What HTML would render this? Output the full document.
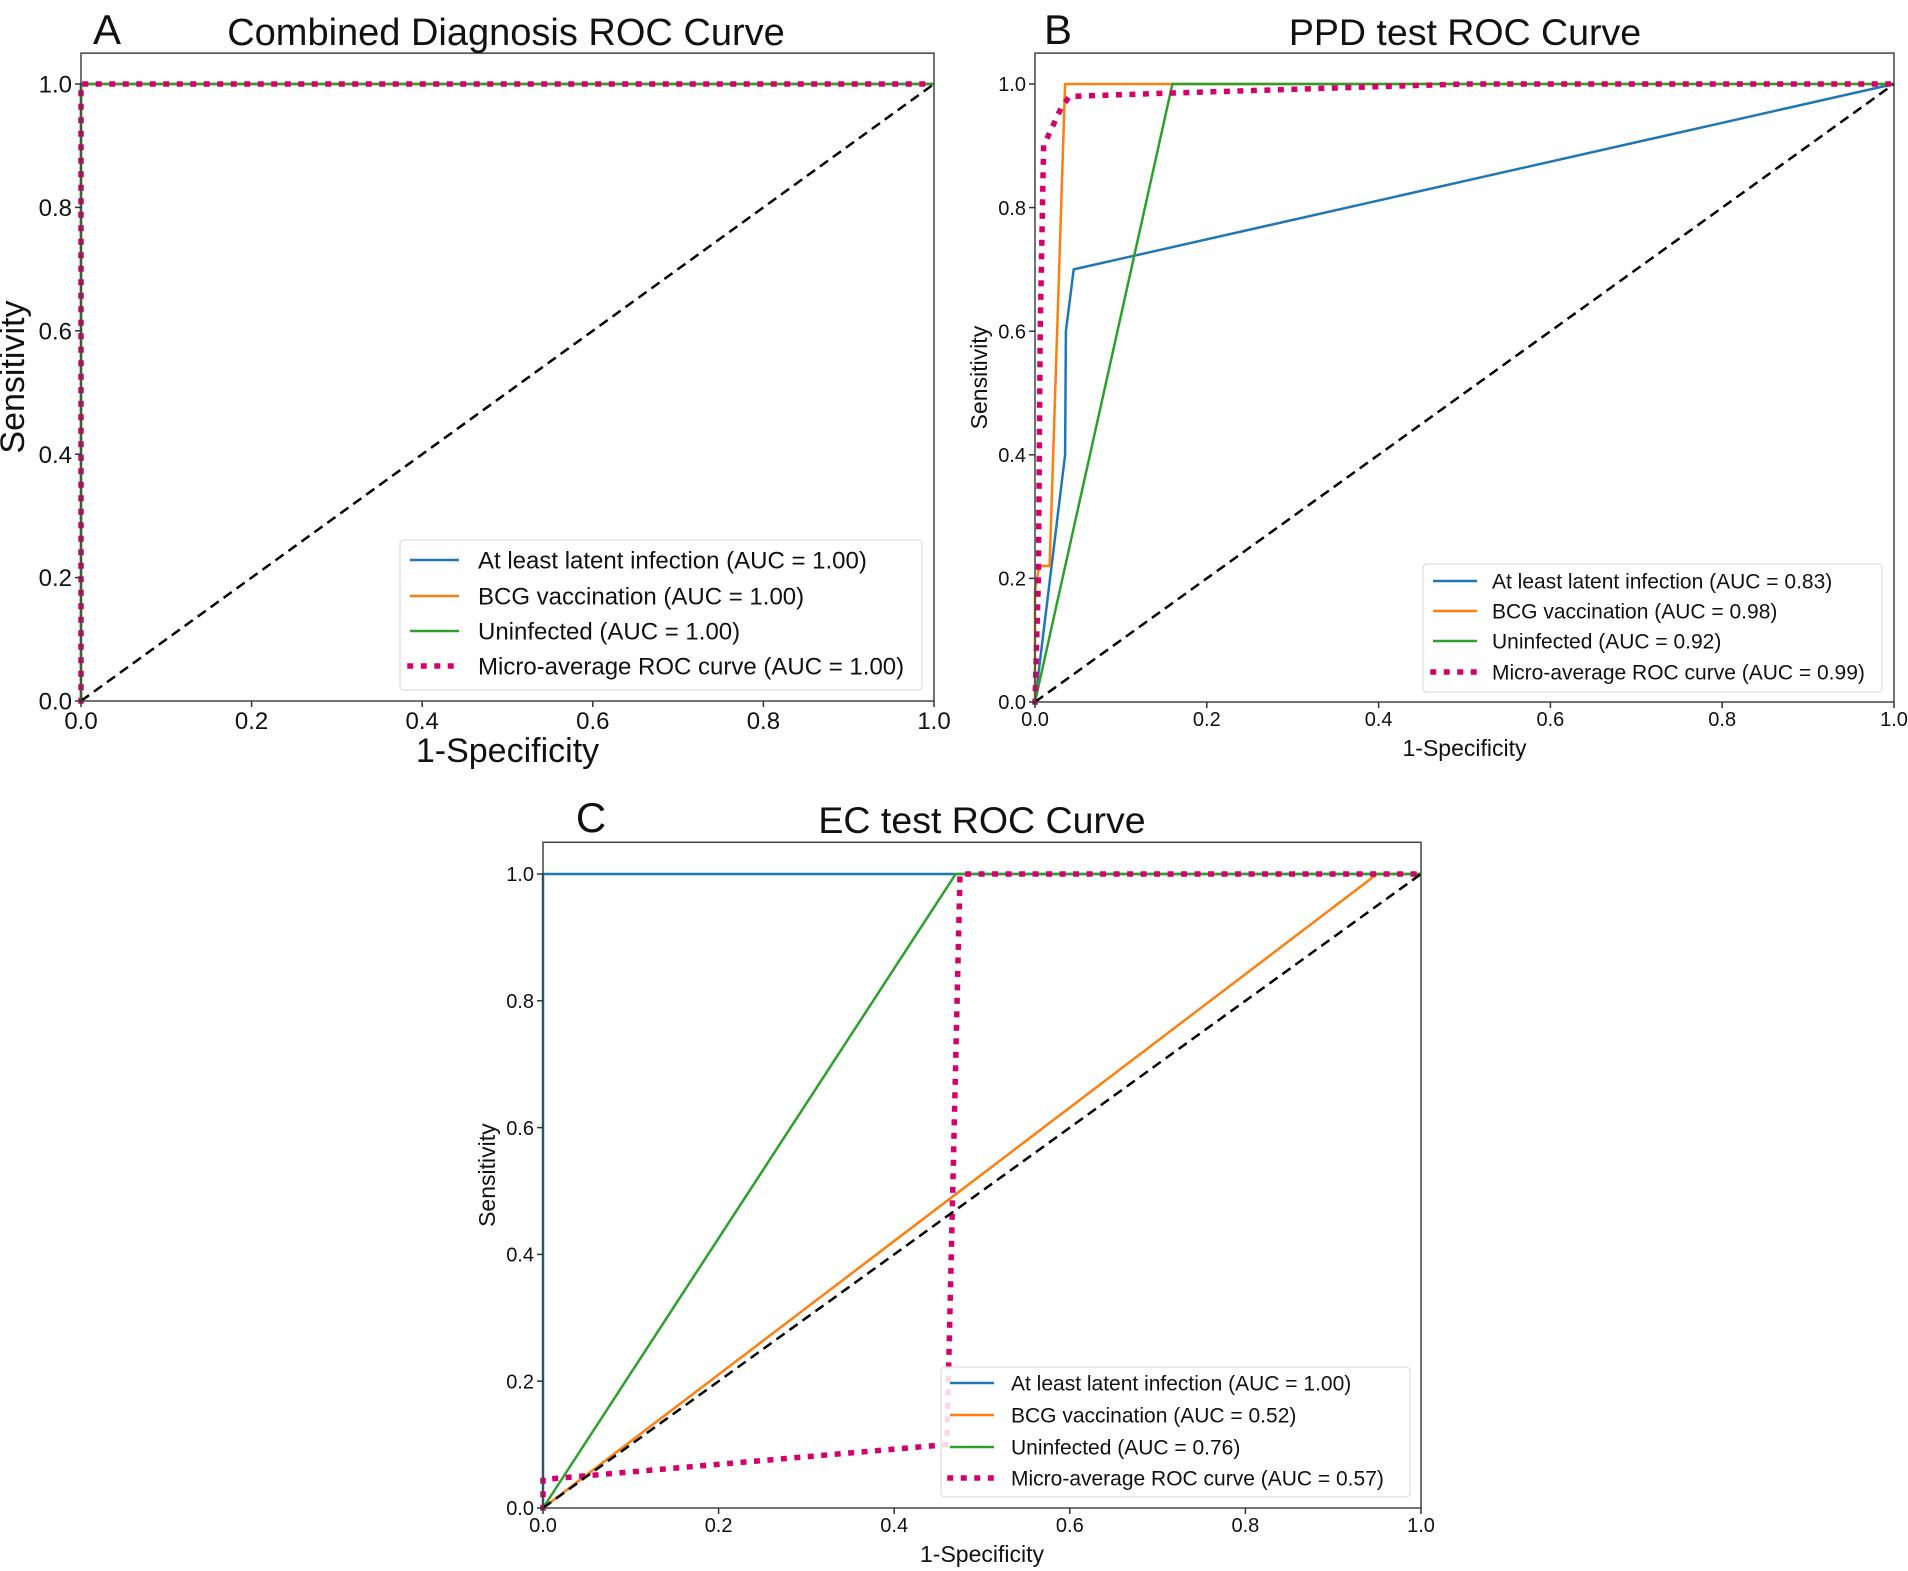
<!DOCTYPE html>
<html><head><meta charset="utf-8"><style>
html,body{margin:0;padding:0;background:#fff;}
svg{display:block;font-family:"Liberation Sans",Arial,sans-serif;}
</style></head><body>
<svg id="fig" width="1908" height="1571" viewBox="0 0 1908 1571" xmlns="http://www.w3.org/2000/svg"></svg>
<script>
// ---- data ----
const seriesNames = ["At least latent infection","BCG vaccination","Uninfected","Micro-average ROC curve"];
const seriesColors = ["#1f77b4","#ff7f0e","#2ca02c","#d6006b"];
const ticks = [0,0.2,0.4,0.6,0.8,1.0];
const tickLabels = ["0.0","0.2","0.4","0.6","0.8","1.0"];

const aucA = ["1.00","1.00","1.00","1.00"];
const aLatentX=[0,0,1], aLatentY=[0,1,1];
const aBcgX=[0,0,1], aBcgY=[0,1,1];
const aUninfX=[0,0,1], aUninfY=[0,1,1];
const aMicroX=[0,0,1], aMicroY=[0,1,1];

const aucB = ["0.83","0.98","0.92","0.99"];
const bLatentX=[0,0.035,0.036,0.045,1], bLatentY=[0,0.4,0.6,0.7,1];
const bBcgX=[0,0,0.005,0.017,0.035,1], bBcgY=[0,0.18,0.22,0.22,1,1];
const bUninfX=[0,0.16,1], bUninfY=[0,1,1];
const bMicroX=[0,0.004,0.006,0.01,0.02,0.03,0.04,0.15,0.5,1], bMicroY=[0,0.2,0.6,0.9,0.93,0.96,0.98,0.985,1,1];

const aucC = ["1.00","0.52","0.76","0.57"];
const cLatentX=[0,0,1], cLatentY=[0,1,1];
const cBcgX=[0,0.95,1], cBcgY=[0,1,1];
const cUninfX=[0,0.47,1], cUninfY=[0,1,1];
const cMicroX=[0,0,0.46,0.475,1], cMicroY=[0,0.045,0.1,1,1];

const panels=[
 {id:"a",letter:"A",title:"Combined Diagnosis ROC Curve",L:81,R:934,y0:701,y1:84,tick:24,lab:34,titleSize:38,letterX:107,titleX:506,titleY:45,
  auc:aucA,xs:[aLatentX,aBcgX,aUninfX,aMicroX],ys:[aLatentY,aBcgY,aUninfY,aMicroY],
  leg:{x:400,y:540,w:522,h:150,rows:[560,596,631,666],lx0:408,lx1:459,tx:478,fs:24},xlY:762},
 {id:"b",letter:"B",title:"PPD test ROC Curve",L:1035,R:1894,y0:702,y1:84,tick:20,lab:23,titleSize:37.5,letterX:1058,titleX:1465,titleY:45,
  auc:aucB,xs:[bLatentX,bBcgX,bUninfX,bMicroX],ys:[bLatentY,bBcgY,bUninfY,bMicroY],
  leg:{x:1423,y:564,w:459,h:128,rows:[581,611,641,672],lx0:1431,lx1:1477,tx:1492,fs:21},xlY:756},
 {id:"c",letter:"C",title:"EC test ROC Curve",L:543,R:1421,y0:1508,y1:874,tick:20,lab:23,titleSize:37.5,letterX:591,titleX:982,titleY:833,
  auc:aucC,xs:[cLatentX,cBcgX,cUninfX,cMicroX],ys:[cLatentY,cBcgY,cUninfY,cMicroY],
  leg:{x:941,y:1367,w:469,h:130,rows:[1383,1415,1447,1478],lx0:948,lx1:994,tx:1011,fs:21},xlY:1562}
];
const NS="http://www.w3.org/2000/svg";
const svg=document.getElementById('fig');
function mk(tag,attrs,parent,text){const e=document.createElementNS(NS,tag);for(const k in attrs)e.setAttribute(k,attrs[k]);if(text!==undefined)e.textContent=text;parent.appendChild(e);return e;}
panels.forEach(p=>{
 const g=mk('g',{},svg);
 
 
 const sx=v=>p.L+v*(p.R-p.L);
 const sy=v=>p.y0-v*(p.y0-p.y1);
 const top=sy(1.05);
 p.xs.forEach((xa,i)=>{
  const pts=xa.map((x,j)=>sx(x).toFixed(1)+","+sy(p.ys[i][j]).toFixed(1)).join(" ");
  const micro=i===3;
  const l=mk('polyline',{points:pts,fill:"none",stroke:seriesColors[i],"stroke-width":micro?5.5:2.5,"stroke-dasharray":micro?"0.5 13":"none","stroke-linecap":micro?"square":"butt","stroke-linejoin":"round"},g);
  
  
 });
 const d=mk('line',{x1:sx(0),y1:sy(0),x2:sx(1),y2:sy(1),stroke:"#000","stroke-width":2.5,"stroke-dasharray":"10 6"},g);
 
 
 const fr=mk('rect',{x:p.L,y:top,width:p.R-p.L,height:p.y0-top,fill:"none",stroke:"#444","stroke-width":1.5},g);
 
 
 ticks.forEach((t,i)=>{
  mk('line',{x1:sx(t),y1:p.y0,x2:sx(t),y2:p.y0+6,stroke:"#333","stroke-width":1.5},g);
  const xt=mk('text',{x:sx(t),y:p.y0+p.tick+4,"font-size":p.tick,"text-anchor":"middle",fill:"#111"},g,tickLabels[i]);
  
  
  mk('line',{x1:p.L-6,y1:sy(t),x2:p.L,y2:sy(t),stroke:"#333","stroke-width":1.5},g);
  const yt=mk('text',{x:p.L-9,y:sy(t)+p.tick*0.36,"font-size":p.tick,"text-anchor":"end",fill:"#111"},g,tickLabels[i]);
  
  
 });
 const xl=mk('text',{x:(p.L+p.R)/2,y:p.xlY,"font-size":p.lab,"text-anchor":"middle",fill:"#111"},g,"1-Specificity");
 
 
 const yx=p.L-(p.id==="a"?57:48), ym=(p.y0+top)/2;
 const yl=mk('text',{x:yx,y:ym,"font-size":p.lab,"text-anchor":"middle",fill:"#111",transform:`rotate(-90 ${yx} ${ym})`},g,"Sensitivity");
 
 
 const ti=mk('text',{x:p.titleX,y:p.titleY,"font-size":p.titleSize,"text-anchor":"middle",fill:"#111"},g,p.title);
 
 
 const le=mk('text',{x:p.letterX,y:p.titleY-1,"font-size":42,"text-anchor":"middle",fill:"#111"},g,p.letter);
 
 
 const lg=mk('g',{},g);
 
 
 mk('rect',{x:p.leg.x,y:p.leg.y,width:p.leg.w,height:p.leg.h,rx:4,fill:"#fff","fill-opacity":0.85,stroke:"#ddd","stroke-width":1.2},lg);
 seriesNames.forEach((n,i)=>{
  const yy=p.leg.rows[i];
  const micro=i===3;
  mk('line',{x1:p.leg.lx0+2,y1:yy,x2:p.leg.lx1,y2:yy,stroke:seriesColors[i],"stroke-width":micro?5.5:2.5,"stroke-dasharray":micro?"0.5 13":"none","stroke-linecap":micro?"square":"butt"},lg);
  const tx=mk('text',{x:p.leg.tx,y:yy+p.leg.fs*0.36,"font-size":p.leg.fs,fill:"#111"},lg,`${n} (AUC = ${p.auc[i]})`);
  
  
 });
});
</script>
</body></html>
